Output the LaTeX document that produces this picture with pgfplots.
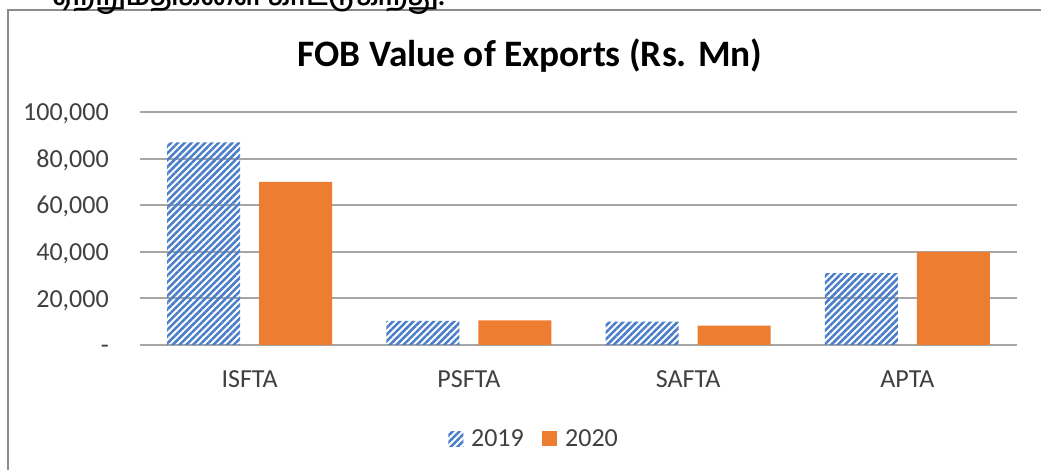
\documentclass[border=0pt]{standalone}
\usepackage{pgfplots}
\pgfplotsset{compat=1.18}
\usepackage{fontspec}
\setmainfont{Carlito}
\newfontfamily\tamilfont[Script=Tamil]{Hind Madurai}
\usetikzlibrary{patterns.meta}
\definecolor{hatchblue}{HTML}{4A7EC8}
\definecolor{barorange}{HTML}{ED7D31}
\definecolor{ticktext}{HTML}{404040}
\definecolor{gridgray}{HTML}{A6A6A6}
\definecolor{framegray}{HTML}{8C8C8C}

\begin{document}
\begin{tikzpicture}[x=1pt,y=1pt]
\useasboundingbox (0,0) rectangle (780.75,352.5);
\fill[white] (0,0) rectangle (780.75,352.5);
\draw[framegray, line width=1.5pt] (6,-2) -- (6,345) -- (783,345);
\node[anchor=base west, inner sep=0pt, font=\tamilfont\bfseries\fontsize{20}{24}\selectfont] at (39,348) {ஏற்றுமதிகளை காட்டுகிறது.};
\node[font=\bfseries\fontsize{28}{32}\selectfont] at (397.5,311) {FOB Value of Exports (Rs. Mn)};
\begin{axis}[
  at={(105pt,93.75pt)}, anchor=south west,
  scale only axis, width=657.75pt, height=174.75pt,
  ymin=0, ymax=100000, xmin=-0.5, xmax=3.5,
  ytick={0,20000,40000,60000,80000,100000},
  yticklabels={{-\hspace{7.5pt}},{20,000},{40,000},{60,000},{80,000},{100,000}},
  xtick={0,1,2,3}, xticklabels={ISFTA,PSFTA,SAFTA,APTA},
  axis x line*=bottom, axis y line*=left,
  y axis line style={draw=none},
  x axis line style={gridgray, line width=1.5pt, -},
  major tick length=0pt,
  ymajorgrids, grid style={gridgray, line width=1.5pt},
  tick label style={font=\fontsize{19.5}{22}\selectfont, text=ticktext},
  yticklabel style={anchor=base east, inner sep=0pt, xshift=-23.25pt, yshift=-6.5pt},
  xticklabel style={anchor=base, inner sep=0pt, yshift=-32.25pt},
  scaled y ticks=false,
  ybar=14.25pt, bar width=54.75pt,
  legend columns=2,
  legend style={at={(0.4498,-0.403)}, anchor=center, draw=none, fill=none,
    font=\fontsize{19.5}{22}\selectfont, text=ticktext,
    /tikz/every even column/.append style={column sep=12pt}},
  legend image code/.code={\path[#1,draw=none] (0pt,-5.6pt) rectangle (11.25pt,5.6pt); \path (15pt,0pt);},
]
\addplot[draw=none, pattern={Lines[angle=45,distance=3.6pt,line width=1.9pt]}, pattern color=hatchblue]
  coordinates {(0,87000) (1,10400) (2,10000) (3,30800)};
\addplot[draw=none, fill=barorange]
  coordinates {(0,70000) (1,10600) (2,8300) (3,40000)};
\legend{2019,2020}
\end{axis}
\end{tikzpicture}
\end{document}
